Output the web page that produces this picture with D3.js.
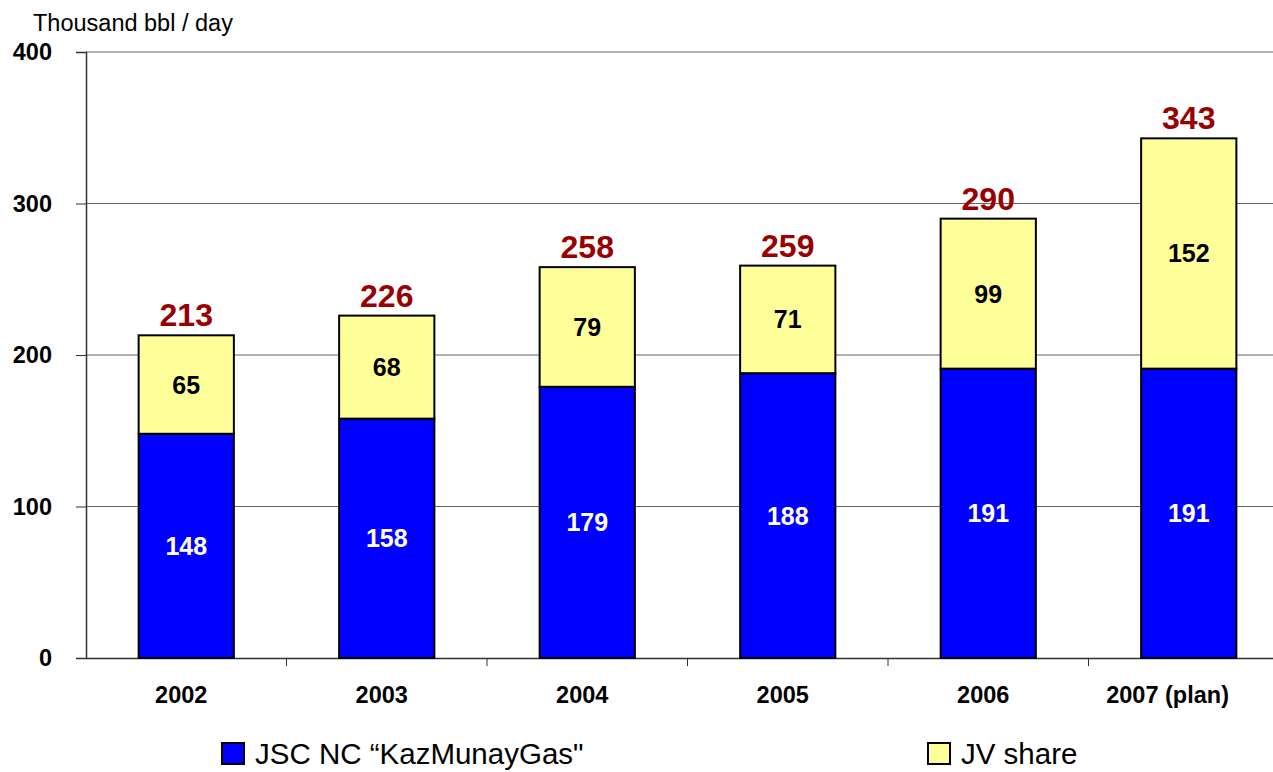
<!DOCTYPE html>
<html>
<head>
<meta charset="utf-8">
<script src="https://cdn.jsdelivr.net/npm/d3@7"></script>
<style>
  html, body { margin: 0; padding: 0; background: #fff; }
  svg { display: block; font-family: "Liberation Sans", Arial, sans-serif; }
</style>
</head>
<body>
<div id="chart"></div>
<script>
// Oil production, thousand bbl / day
const years = ['2002', '2003', '2004', '2005', '2006', '2007 (plan)'];
const kmgValues = [148, 158, 179, 188, 191, 191];
const jvValues = [65, 68, 79, 71, 99, 152];
const totals = [213, 226, 258, 259, 290, 343];
const yTicks = [0, 100, 200, 300, 400];
const seriesNames = ['JSC NC \u201CKazMunayGas"', 'JV share'];

const COLORS = {
  kmg: '#0000ff',
  jv: '#ffff99',
  total: '#990000',
};

const W = 1273, H = 772;
const plotLeft = 86, plotTop = 52, plotBottom = 658;

const svg = d3.select('#chart').append('svg')
  .attr('width', W)
  .attr('height', H);

const x = d3.scaleBand()
  .domain(years)
  .range([plotLeft, plotLeft + 200.5 * years.length])
  .padding(0);

const y = d3.scaleLinear()
  .domain([0, 400])
  .range([plotBottom, plotTop]);

const barW = x.bandwidth() * 0.475;
const barX = d => x(d) + (x.bandwidth() - barW) / 2;
const mid = d => x(d) + x.bandwidth() / 2;

// gridlines
svg.append('g')
  .selectAll('line')
  .data(yTicks.filter(t => t > 0))
  .join('line')
  .attr('x1', plotLeft).attr('x2', W)
  .attr('y1', d => y(d)).attr('y2', d => y(d))
  .attr('stroke', '#666')
  .attr('stroke-width', 1);

// y axis
const yAxis = svg.append('g')
  .attr('transform', `translate(${plotLeft},0)`)
  .call(d3.axisLeft(y).tickValues(yTicks).tickSize(10).tickPadding(24));
yAxis.select('.domain').attr('stroke', '#333').attr('stroke-width', 1.5);
yAxis.selectAll('.tick line').attr('stroke', '#333');
yAxis.selectAll('.tick text')
  .attr('font-size', 23.5)
  .attr('font-weight', 'bold')
  .attr('fill', '#000')
  .attr('font-family', '"Liberation Sans", Arial, sans-serif');

// x axis
const xAxis = svg.append('g')
  .attr('transform', `translate(0,${plotBottom})`)
  .call(d3.axisBottom(x).tickSize(0).tickPadding(0));
xAxis.select('.domain').attr('stroke', '#333').attr('stroke-width', 1.5);
xAxis.selectAll('.tick text')
  .attr('y', 45)
  .attr('dy', 0)
  .attr('font-size', 23.5)
  .attr('font-weight', 'bold')
  .attr('fill', '#000')
  .attr('font-family', '"Liberation Sans", Arial, sans-serif')
  .attr('dx', function (d) {
    // keep the long last label inside the visible frame
    const w = this.getComputedTextLength();
    return Math.min(-5, 1229 - (mid(d) + w / 2));
  });

// category separator ticks
svg.append('g')
  .selectAll('line')
  .data(years.slice(1))
  .join('line')
  .attr('x1', d => x(d)).attr('x2', d => x(d))
  .attr('y1', plotBottom).attr('y2', plotBottom + 8)
  .attr('stroke', '#333');

// bars
const rows = years.map((yr, i) => ({ yr, kmg: kmgValues[i], jv: jvValues[i], total: totals[i] }));

const bars = svg.append('g');
bars.selectAll('rect.kmg')
  .data(rows)
  .join('rect')
  .attr('class', 'kmg')
  .attr('x', d => barX(d.yr))
  .attr('width', barW)
  .attr('y', d => y(d.kmg))
  .attr('height', d => y(0) - y(d.kmg))
  .attr('fill', COLORS.kmg)
  .attr('stroke', '#000')
  .attr('stroke-width', 2);

bars.selectAll('rect.jv')
  .data(rows)
  .join('rect')
  .attr('class', 'jv')
  .attr('x', d => barX(d.yr))
  .attr('width', barW)
  .attr('y', d => y(d.kmg + d.jv))
  .attr('height', d => y(d.kmg) - y(d.kmg + d.jv))
  .attr('fill', COLORS.jv)
  .attr('stroke', '#000')
  .attr('stroke-width', 2);

// segment labels
const labels = svg.append('g').attr('font-weight', 'bold').attr('text-anchor', 'middle');
labels.selectAll('text.kmg')
  .data(rows)
  .join('text')
  .attr('class', 'kmg')
  .attr('x', d => mid(d.yr))
  .attr('y', d => y(d.kmg / 2))
  .attr('dy', '0.36em')
  .attr('font-size', 25)
  .attr('fill', '#fff')
  .text(d => d.kmg);

labels.selectAll('text.jv')
  .data(rows)
  .join('text')
  .attr('class', 'jv')
  .attr('x', d => mid(d.yr))
  .attr('y', d => y(d.kmg + d.jv / 2))
  .attr('dy', '0.36em')
  .attr('font-size', 25)
  .attr('fill', '#000')
  .text(d => d.jv);

labels.selectAll('text.total')
  .data(rows)
  .join('text')
  .attr('class', 'total')
  .attr('x', d => mid(d.yr))
  .attr('y', d => y(d.total) - 9)
  .attr('font-size', 32)
  .attr('fill', COLORS.total)
  .text(d => d.total);

// unit label
svg.append('text')
  .attr('x', 33).attr('y', 31)
  .attr('font-size', 23.5)
  .attr('fill', '#000')
  .text('Thousand bbl / day');

// legend
const legendItems = [
  { name: seriesNames[0], color: COLORS.kmg, x: 222 },
  { name: seriesNames[1], color: COLORS.jv, x: 928 },
];
const legend = svg.append('g');
const item = legend.selectAll('g')
  .data(legendItems)
  .join('g')
  .attr('transform', d => `translate(${d.x},743)`);
item.append('rect')
  .attr('width', 22).attr('height', 21)
  .attr('fill', d => d.color)
  .attr('stroke', '#000')
  .attr('stroke-width', 2);
item.append('text')
  .attr('x', 33).attr('y', 21)
  .attr('font-size', 29.5)
  .attr('fill', '#000')
  .text(d => d.name);
</script>
</body>
</html>
